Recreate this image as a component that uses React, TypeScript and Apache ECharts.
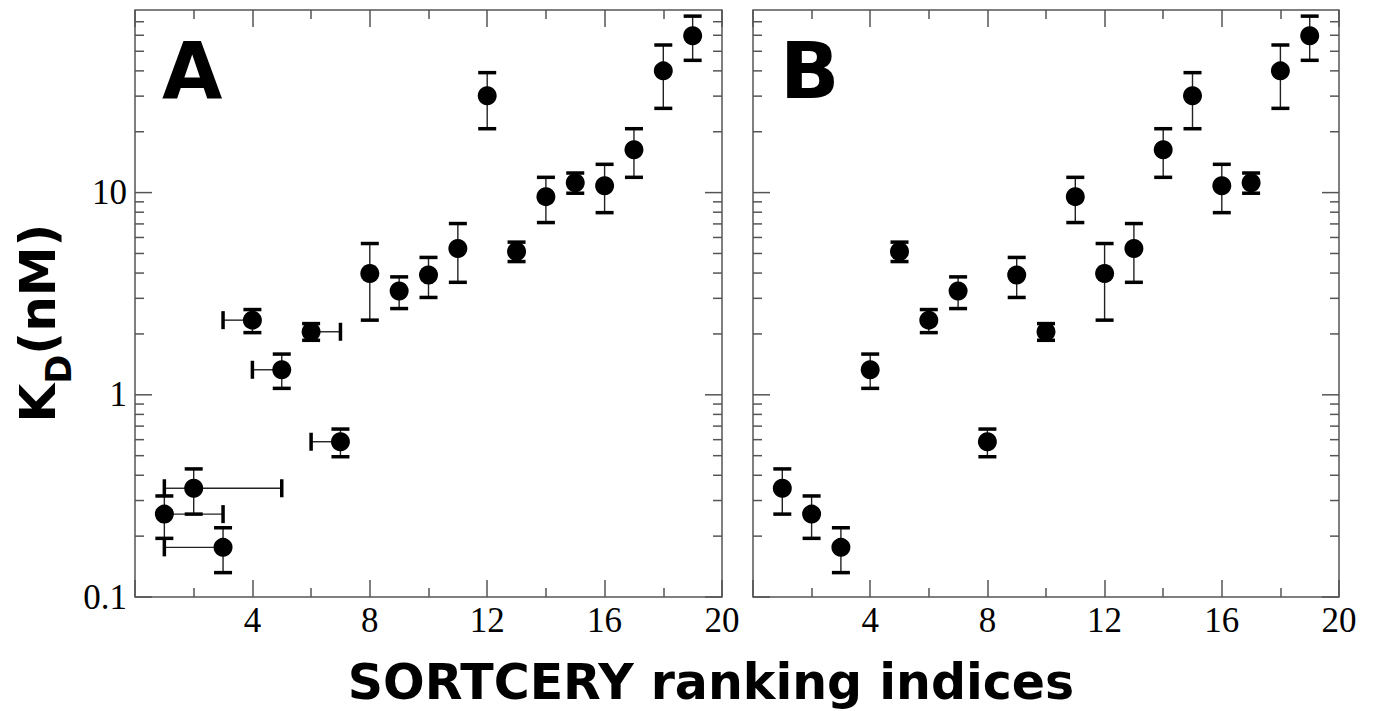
import React, { useEffect, useRef } from 'react';
import * as echarts from 'echarts';

// Peptides listed in panel-A ranking order
const ranksA = [1, 2, 3, 4, 5, 6, 7, 8, 9, 10, 11, 12, 13, 14, 15, 16, 17, 18, 19];
const ranksB = [2, 1, 3, 6, 4, 10, 8, 12, 7, 9, 13, 15, 5, 11, 17, 16, 14, 18, 19];
const kdValues = [0.257, 0.345, 0.176, 2.34, 1.33, 2.05, 0.586, 3.98, 3.26, 3.91, 5.29, 30.1, 5.11, 9.55, 11.2, 10.8, 16.3, 40.0, 59.7];
const kdLow = [0.195, 0.257, 0.132, 2.03, 1.076, 1.86, 0.494, 2.34, 2.67, 3.03, 3.6, 20.7, 4.56, 7.11, 9.93, 7.96, 11.9, 26.1, 45.1];
const kdHigh = [0.316, 0.43, 0.22, 2.64, 1.59, 2.25, 0.677, 5.6, 3.83, 4.78, 7.03, 39.2, 5.69, 11.9, 12.5, 13.8, 20.7, 53.7, 74.6];
// Horizontal (rank) error ranges in panel A
const rankLowA = [1, 1, 1, 3, 4, 6, 6, 8, 9, 10, 11, 12, 13, 14, 15, 16, 17, 18, 19];
const rankHighA = [3, 5, 3, 4, 5, 7, 7, 8, 9, 10, 11, 12, 13, 14, 15, 16, 17, 18, 19];

const xMin = 0;
const xMax = 20;
const xInterval = 4;
const yMin = 0.1;
const yMax = 80;
const yLabelTicks = [0.1, 1, 10];
const yMajorTicks = [0.1, 1, 10];
const yMinorTicks = [0.2, 0.3, 0.4, 0.5, 0.6, 0.7, 0.8, 0.9, 2, 3, 4, 5, 6, 7, 8, 9, 20, 30, 40, 50, 60, 70];
const panelLetters = ['A', 'B'];
const xTitle = 'SORTCERY ranking indices';

const FRAME = '#555';
const SERIF = '"Liberation Serif", "Times New Roman", serif';
const SANS = '"DejaVu Sans", Verdana, sans-serif';

const grids = [
  { left: 135, top: 10, width: 587, height: 587 },
  { left: 753, top: 10, width: 586, height: 587 },
];

function errorBarRender(params: any, api: any) {
  const x = api.value(0);
  const y = api.value(1);
  const lo = api.value(2);
  const hi = api.value(3);
  const xl = api.value(4);
  const xh = api.value(5);
  const c = api.coord([x, y]);
  const pLo = api.coord([x, lo]);
  const pHi = api.coord([x, hi]);
  const stem = { stroke: '#222', lineWidth: 1.4, fill: null };
  const cap = { stroke: '#000', lineWidth: 3.5, fill: null };
  const half = 9;
  const children: any[] = [
    { type: 'line', shape: { x1: pLo[0], y1: pLo[1], x2: pHi[0], y2: pHi[1] }, style: stem },
    { type: 'line', shape: { x1: pLo[0] - half, y1: pLo[1], x2: pLo[0] + half, y2: pLo[1] }, style: cap },
    { type: 'line', shape: { x1: pHi[0] - half, y1: pHi[1], x2: pHi[0] + half, y2: pHi[1] }, style: cap },
  ];
  if (xl < x) {
    const pL = api.coord([xl, y]);
    children.push({ type: 'line', shape: { x1: pL[0], y1: pL[1], x2: c[0], y2: c[1] }, style: stem });
    children.push({ type: 'line', shape: { x1: pL[0], y1: pL[1] - half, x2: pL[0], y2: pL[1] + half }, style: cap });
  }
  if (xh > x) {
    const pR = api.coord([xh, y]);
    children.push({ type: 'line', shape: { x1: c[0], y1: c[1], x2: pR[0], y2: pR[1] }, style: stem });
    children.push({ type: 'line', shape: { x1: pR[0], y1: pR[1] - half, x2: pR[0], y2: pR[1] + half }, style: cap });
  }
  return { type: 'group', children };
}

function yTickRender(params: any, api: any) {
  const side = api.value(0);
  const v = api.value(1);
  const len = api.value(2);
  const p = api.coord([side, v]);
  const dir = side === xMin ? 1 : -1;
  return {
    type: 'line',
    shape: { x1: p[0], y1: p[1], x2: p[0] + dir * len, y2: p[1] },
    style: { stroke: FRAME, lineWidth: 1.5, fill: null },
  };
}

export default function App() {
  const ref = useRef<HTMLDivElement>(null);
  useEffect(() => {
    if (!ref.current) return;
    const chart = echarts.init(ref.current, undefined, { renderer: 'svg' });

    const tickData: any[] = [];
    [xMin, xMax].forEach((side) => {
      yMajorTicks.forEach((v) => tickData.push([side, v, 17]));
      yMinorTicks.forEach((v) => tickData.push([side, v, 9]));
    });

    const panels = [
      { ranks: ranksA, low: rankLowA, high: rankHighA },
      { ranks: ranksB, low: ranksB, high: ranksB },
    ];

    const xAxes: any[] = [];
    const yAxes: any[] = [];
    const series: any[] = [];
    const tickCommon = {
      axisTick: { show: true, inside: true, length: 17, lineStyle: { color: FRAME, width: 1.5 } },
      minorTick: { show: true, splitNumber: 2, length: 9, lineStyle: { color: FRAME, width: 1.5 } },
      axisLine: { show: false },
      splitLine: { show: false },
      minorSplitLine: { show: false },
    };
    panels.forEach((p, gi) => {
      xAxes.push({
        type: 'value', gridIndex: gi, position: 'bottom', min: xMin, max: xMax, interval: xInterval,
        ...tickCommon,
        axisLabel: {
          show: true, margin: 6, color: '#000', fontFamily: SERIF, fontSize: 35,
          formatter: (v: number) => (v === xMin ? '' : String(v)),
        },
      });
      xAxes.push({
        type: 'value', gridIndex: gi, position: 'top', min: xMin, max: xMax, interval: xInterval,
        ...tickCommon,
        axisLabel: { show: false },
      });
      yAxes.push({
        type: 'log', gridIndex: gi, logBase: 10, min: yMin, max: yMax,
        axisLine: { show: false }, axisTick: { show: false }, splitLine: { show: false },
        axisLabel: {
          show: gi === 0, margin: 8, color: '#000', fontFamily: SERIF, fontSize: 35,
          formatter: (v: number) => (yLabelTicks.some((t) => Math.abs(v - t) < 1e-9) ? String(v) : ''),
        },
      });
      const pts = kdValues.map((kd, i) => [p.ranks[i], kd, kdLow[i], kdHigh[i], p.low[i], p.high[i]]);
      series.push({
        type: 'custom', xAxisIndex: gi * 2, yAxisIndex: gi, renderItem: yTickRender,
        encode: { x: 0, y: 1 }, data: tickData, silent: true, z: 1,
      });
      series.push({
        type: 'custom', xAxisIndex: gi * 2, yAxisIndex: gi, renderItem: errorBarRender,
        encode: { x: 0, y: 1 }, data: pts, silent: true, z: 2,
      });
      series.push({
        type: 'scatter', xAxisIndex: gi * 2, yAxisIndex: gi, symbol: 'circle', symbolSize: 19,
        itemStyle: { color: '#000', opacity: 1 }, data: pts.map((d) => [d[0], d[1]]), z: 3,
      });
    });

    chart.setOption({
      animation: false,
      backgroundColor: '#fff',
      grid: grids.map((g) => ({ ...g, show: true, borderColor: FRAME, borderWidth: 1.5, backgroundColor: 'transparent' })),
      xAxis: xAxes,
      yAxis: yAxes,
      series,
      graphic: [
        ...panelLetters.map((t, i) => ({
          type: 'text', x: grids[i].left + 27, y: 71, z: 10,
          style: { text: t, fill: '#000', fontFamily: SANS, fontWeight: 'bold', fontSize: 78, align: 'left', verticalAlign: 'middle' },
        })),
        {
          type: 'text', x: 711, y: 682, z: 10,
          style: { text: xTitle, fill: '#000', fontFamily: SANS, fontWeight: 'bold', fontSize: 49, align: 'center', verticalAlign: 'middle' },
        },
        {
          type: 'text', x: 38, y: 323, rotation: Math.PI / 2, z: 10,
          style: {
            text: '{k|K}{d|D}{k|(nM)}', align: 'center', verticalAlign: 'middle', fill: '#000',
            rich: {
              k: { fontFamily: SANS, fontWeight: 'bold', fontSize: 50, lineHeight: 76, fill: '#000' },
              d: { fontFamily: SANS, fontWeight: 'bold', fontSize: 35, lineHeight: 76, verticalAlign: 'bottom', fill: '#000' },
            },
          },
        },
      ],
    });
    return () => chart.dispose();
  }, []);
  return <div ref={ref} style={{ position: 'fixed', left: 0, top: 0, width: 1376, height: 711 }} />;
}
